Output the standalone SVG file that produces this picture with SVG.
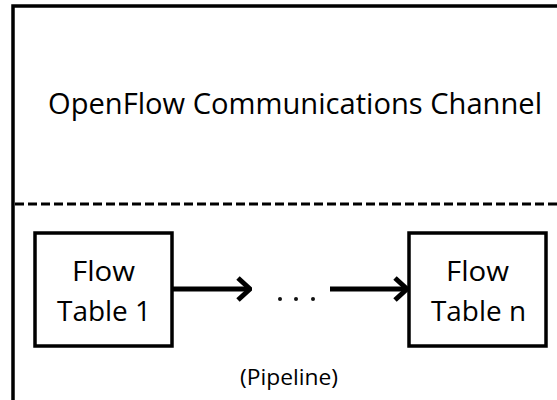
<svg xmlns="http://www.w3.org/2000/svg" width="557" height="400" viewBox="0 0 557 400">
<defs>
<style>
.t{font-family:"Open Sans","Liberation Sans",sans-serif;fill:#000;text-anchor:middle}
.box{fill:#fff;stroke:#000;stroke-width:3.5}
.conn{stroke:#000;stroke-width:5;fill:none}
</style>
<marker id="ah" viewBox="0 0 16 26" refX="14" refY="13" markerWidth="16" markerHeight="26" markerUnits="userSpaceOnUse" orient="auto">
<path d="M2,2 L14,13 L2,24" fill="none" stroke="#000" stroke-width="5" stroke-linejoin="miter"/>
</marker>
</defs>
<rect width="557" height="400" fill="#fff"/>
<g id="frame">
<path d="M13,400 V6 H557" fill="none" stroke="#000" stroke-width="3.5"/>
<line x1="15" y1="204" x2="557" y2="204" stroke="#000" stroke-width="3" stroke-dasharray="9,4"/>
<text class="t" x="295" y="114" font-size="28.5" textLength="494" lengthAdjust="spacingAndGlyphs">OpenFlow Communications Channel</text>
</g>
<g id="table1">
<rect class="box" x="35" y="233" width="137" height="113"/>
<text class="t" x="103.5" y="281" font-size="28" textLength="63" lengthAdjust="spacingAndGlyphs">Flow</text>
<text class="t" x="104" y="321" font-size="28" textLength="94" lengthAdjust="spacingAndGlyphs">Table 1</text>
</g>
<g id="tablen">
<rect class="box" x="409" y="233" width="137" height="113"/>
<text class="t" x="477.5" y="281" font-size="28" textLength="63" lengthAdjust="spacingAndGlyphs">Flow</text>
<text class="t" x="478.5" y="321" font-size="28" textLength="95" lengthAdjust="spacingAndGlyphs">Table n</text>
</g>
<g id="connectors">
<line class="conn" x1="173" y1="289" x2="250" y2="289" marker-end="url(#ah)"/>
<line class="conn" x1="330" y1="289" x2="407" y2="289" marker-end="url(#ah)"/>
</g>
<g id="ellipsis">
<circle cx="280" cy="299" r="2" fill="#111"/>
<circle cx="296" cy="299" r="2" fill="#111"/>
<circle cx="313" cy="299" r="2" fill="#111"/>
</g>
<g id="pipeline-label">
<text class="t" x="289" y="385" font-size="21" textLength="98" lengthAdjust="spacingAndGlyphs">(Pipeline)</text>
</g>
</svg>
